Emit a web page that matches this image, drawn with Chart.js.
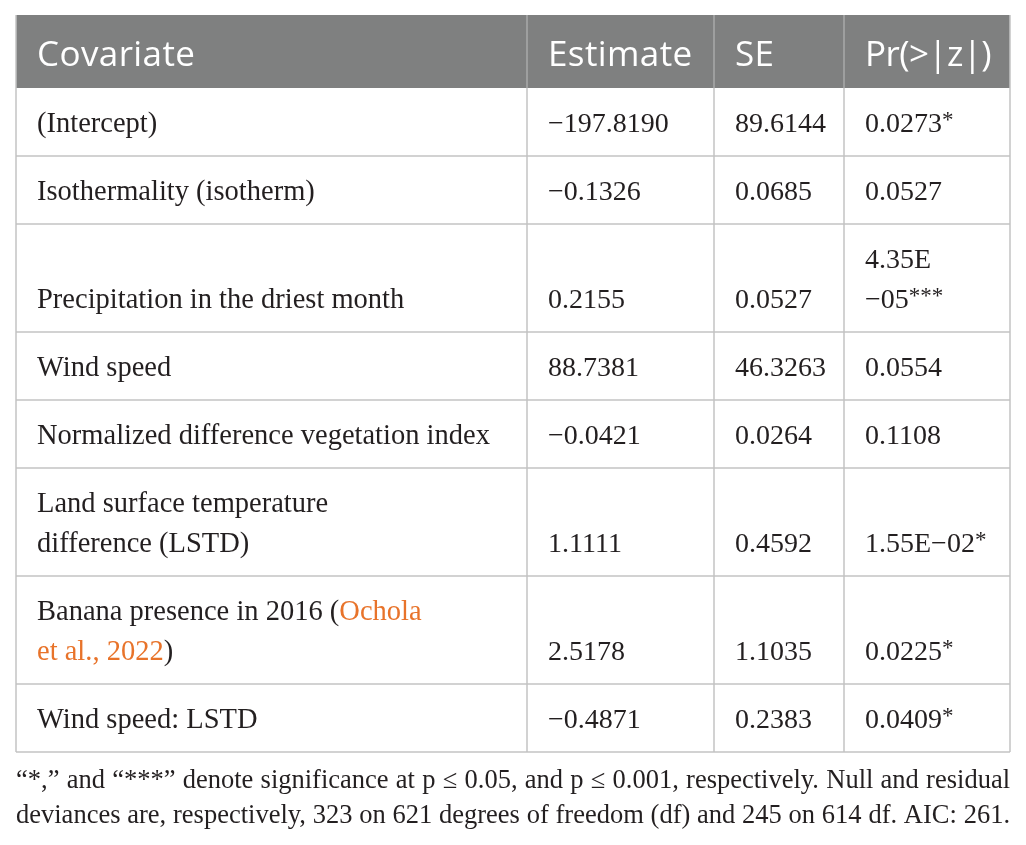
<!DOCTYPE html>
<html>
<head>
<meta charset="utf-8">
<script src="https://cdn.jsdelivr.net/npm/chart.js@4.4.1/dist/chart.umd.min.js"></script>
<style>
    html, body { margin: 0; padding: 0; background: #ffffff; }
    #wrap { width: 1026px; height: 845px; }
</style>
</head>
<body>
<div id="wrap"><canvas id="tabela" width="1026" height="845"></canvas></div>
<script>
// Dados da tabela
const headers = ["Covariate", "Estimate", "SE", "Pr(>|z|)"];
const covariates = [
    ["(Intercept)"],
    ["Isothermality (isotherm)"],
    ["Precipitation in the driest month"],
    ["Wind speed"],
    ["Normalized difference vegetation index"],
    ["Land surface temperature", "difference (LSTD)"],
    ["Banana presence in 2016 (Ochola", "et al., 2022)"],
    ["Wind speed: LSTD"],
];
const estimates = ["\u2212197.8190", "\u22120.1326", "0.2155", "88.7381", "\u22120.0421", "1.1111", "2.5178", "\u22120.4871"];
const stdErrors = ["89.6144", "0.0685", "0.0527", "46.3263", "0.0264", "0.4592", "1.1035", "0.2383"];
const pValues = [["0.0273"], ["0.0527"], ["4.35E", "\u221205"], ["0.0554"], ["0.1108"], ["1.55E\u221202"], ["0.0225"], ["0.0409"]];
const stars = ["*", "", "***", "", "", "*", "*", "*"];
const footnote = [
    "\u201c*,\u201d and \u201c***\u201d denote significance at p \u2264 0.05, and p \u2264 0.001, respectively. Null and residual",
    "deviances are, respectively, 323 on 621 degrees of freedom (df) and 245 on 614 df. AIC: 261.",
];

// Layout (px)
const tabLeft = 16, tabRight = 1010, tabTop = 15;
const colEdges = [16, 527, 714, 844, 1010];
const headerH = 73;
const pad = 21;
const serif = "'Liberation Serif', 'DejaVu Serif', serif";
const sans = "'Open Sans', 'Noto Sans', sans-serif";
const textColor = "#231f20";
const orange = "#e8732a";
const gridColor = "#c3c3c3";

function rowHeight(i) {
    const n = Math.max(covariates[i].length, pValues[i].length);
    return n > 1 ? 108 : 68;
}

// desenha texto com a citação em laranja
function drawRich(c, line, x, y) {
    const idxFull = line.indexOf("Ochola");
    if (idxFull >= 0) {
        const a = line.slice(0, idxFull);
        c.fillStyle = textColor;
        c.fillText(a, x, y);
        c.fillStyle = orange;
        c.fillText(line.slice(idxFull), x + c.measureText(a).width, y);
        c.fillStyle = textColor;
        return;
    }
    if (line.indexOf("et al.") === 0) {
        const cit = "et al., 2022";
        c.fillStyle = orange;
        c.fillText(cit, x, y);
        c.fillStyle = textColor;
        c.fillText(line.slice(cit.length), x + c.measureText(cit).width, y);
        return;
    }
    c.fillStyle = textColor;
    c.fillText(line, x, y);
}

function drawJustified(c, line, x0, x1, y) {
    const words = line.split(" ");
    const total = words.reduce((s, w) => s + c.measureText(w).width, 0);
    const gap = (x1 - x0 - total) / (words.length - 1);
    let x = x0;
    words.forEach((w) => {
        c.fillText(w, x, y);
        x += c.measureText(w).width + gap;
    });
}

const tablePlugin = {
    id: "tablePlugin",
    afterDraw(chart) {
        const c = chart.ctx;
        c.save();
        // cabeçalho
        c.fillStyle = "#7f8080";
        c.fillRect(tabLeft, tabTop, tabRight - tabLeft, headerH);
        c.font = "35px " + sans;
        c.fillStyle = "#ffffff";
        c.textBaseline = "alphabetic";
        c.textAlign = "left";
        headers.forEach((h, j) => {
            c.letterSpacing = h.includes("|") ? "-0.6px" : "0.4px";
            c.fillText(h, colEdges[j] + pad, tabTop + headerH - 22);
        });
        c.letterSpacing = "0px";

        // linhas
        let y = tabTop + headerH;
        const rowTops = [y];
        const labelFont = "28.5px " + serif;
        const numFont = "28px " + serif;
        covariates.forEach((cov, i) => {
            const h = rowHeight(i);
            const base = y + h - 24;
            c.font = labelFont;
            cov.forEach((line, k) => drawRich(c, line, colEdges[0] + pad, base - (cov.length - 1 - k) * 40));
            c.font = numFont;
            c.fillStyle = textColor;
            c.fillText(estimates[i], colEdges[1] + pad, base);
            c.fillText(stdErrors[i], colEdges[2] + pad, base);
            const pv = pValues[i];
            pv.forEach((line, k) => c.fillText(line, colEdges[3] + pad, base - (pv.length - 1 - k) * 40));
            if (stars[i]) {
                const w = c.measureText(pv[pv.length - 1]).width;
                c.font = "23px " + serif;
                c.fillText(stars[i], colEdges[3] + pad + w, base - 5);
            }
            y += h;
            rowTops.push(y);
        });

        // grade
        c.strokeStyle = gridColor;
        c.lineWidth = 1.5;
        c.beginPath();
        rowTops.forEach((ry, k) => {
            if (k === 0) return;
            c.moveTo(tabLeft, ry);
            c.lineTo(tabRight, ry);
        });
        colEdges.forEach((cx, k) => {
            const y0 = (k === 0 || k === colEdges.length - 1) ? tabTop : tabTop + headerH;
            c.moveTo(cx, y0);
            c.lineTo(cx, y);
        });
        c.stroke();
        // divisores no cabeçalho
        c.strokeStyle = "#a9a9a9";
        c.beginPath();
        colEdges.slice(1, -1).forEach((cx) => { c.moveTo(cx, tabTop); c.lineTo(cx, tabTop + headerH); });
        c.stroke();

        // nota de rodapé: tamanho ajustado para a última linha ocupar a largura
        c.fillStyle = textColor;
        c.font = "24px " + serif;
        const natural = c.measureText(footnote[1]).width;
        const fs = Math.floor(24 * (tabRight - tabLeft) / natural * 10) / 10;
        c.font = fs + "px " + serif;
        footnote.forEach((line, k) => drawJustified(c, line, tabLeft, tabRight, y + 36 + k * 35));
        c.restore();
    },
};

new Chart(document.querySelector("#tabela"), {
    type: "bar",
    data: {
        labels: covariates.map((c) => c.join(" ")),
        datasets: [{ data: [], backgroundColor: "transparent" }],
    },
    options: {
        responsive: false,
        animation: false,
        events: [],
        layout: { padding: 0 },
        scales: { x: { display: false }, y: { display: false } },
        plugins: { legend: { display: false }, tooltip: { enabled: false } },
    },
    plugins: [tablePlugin],
});
</script>
</body>
</html>
